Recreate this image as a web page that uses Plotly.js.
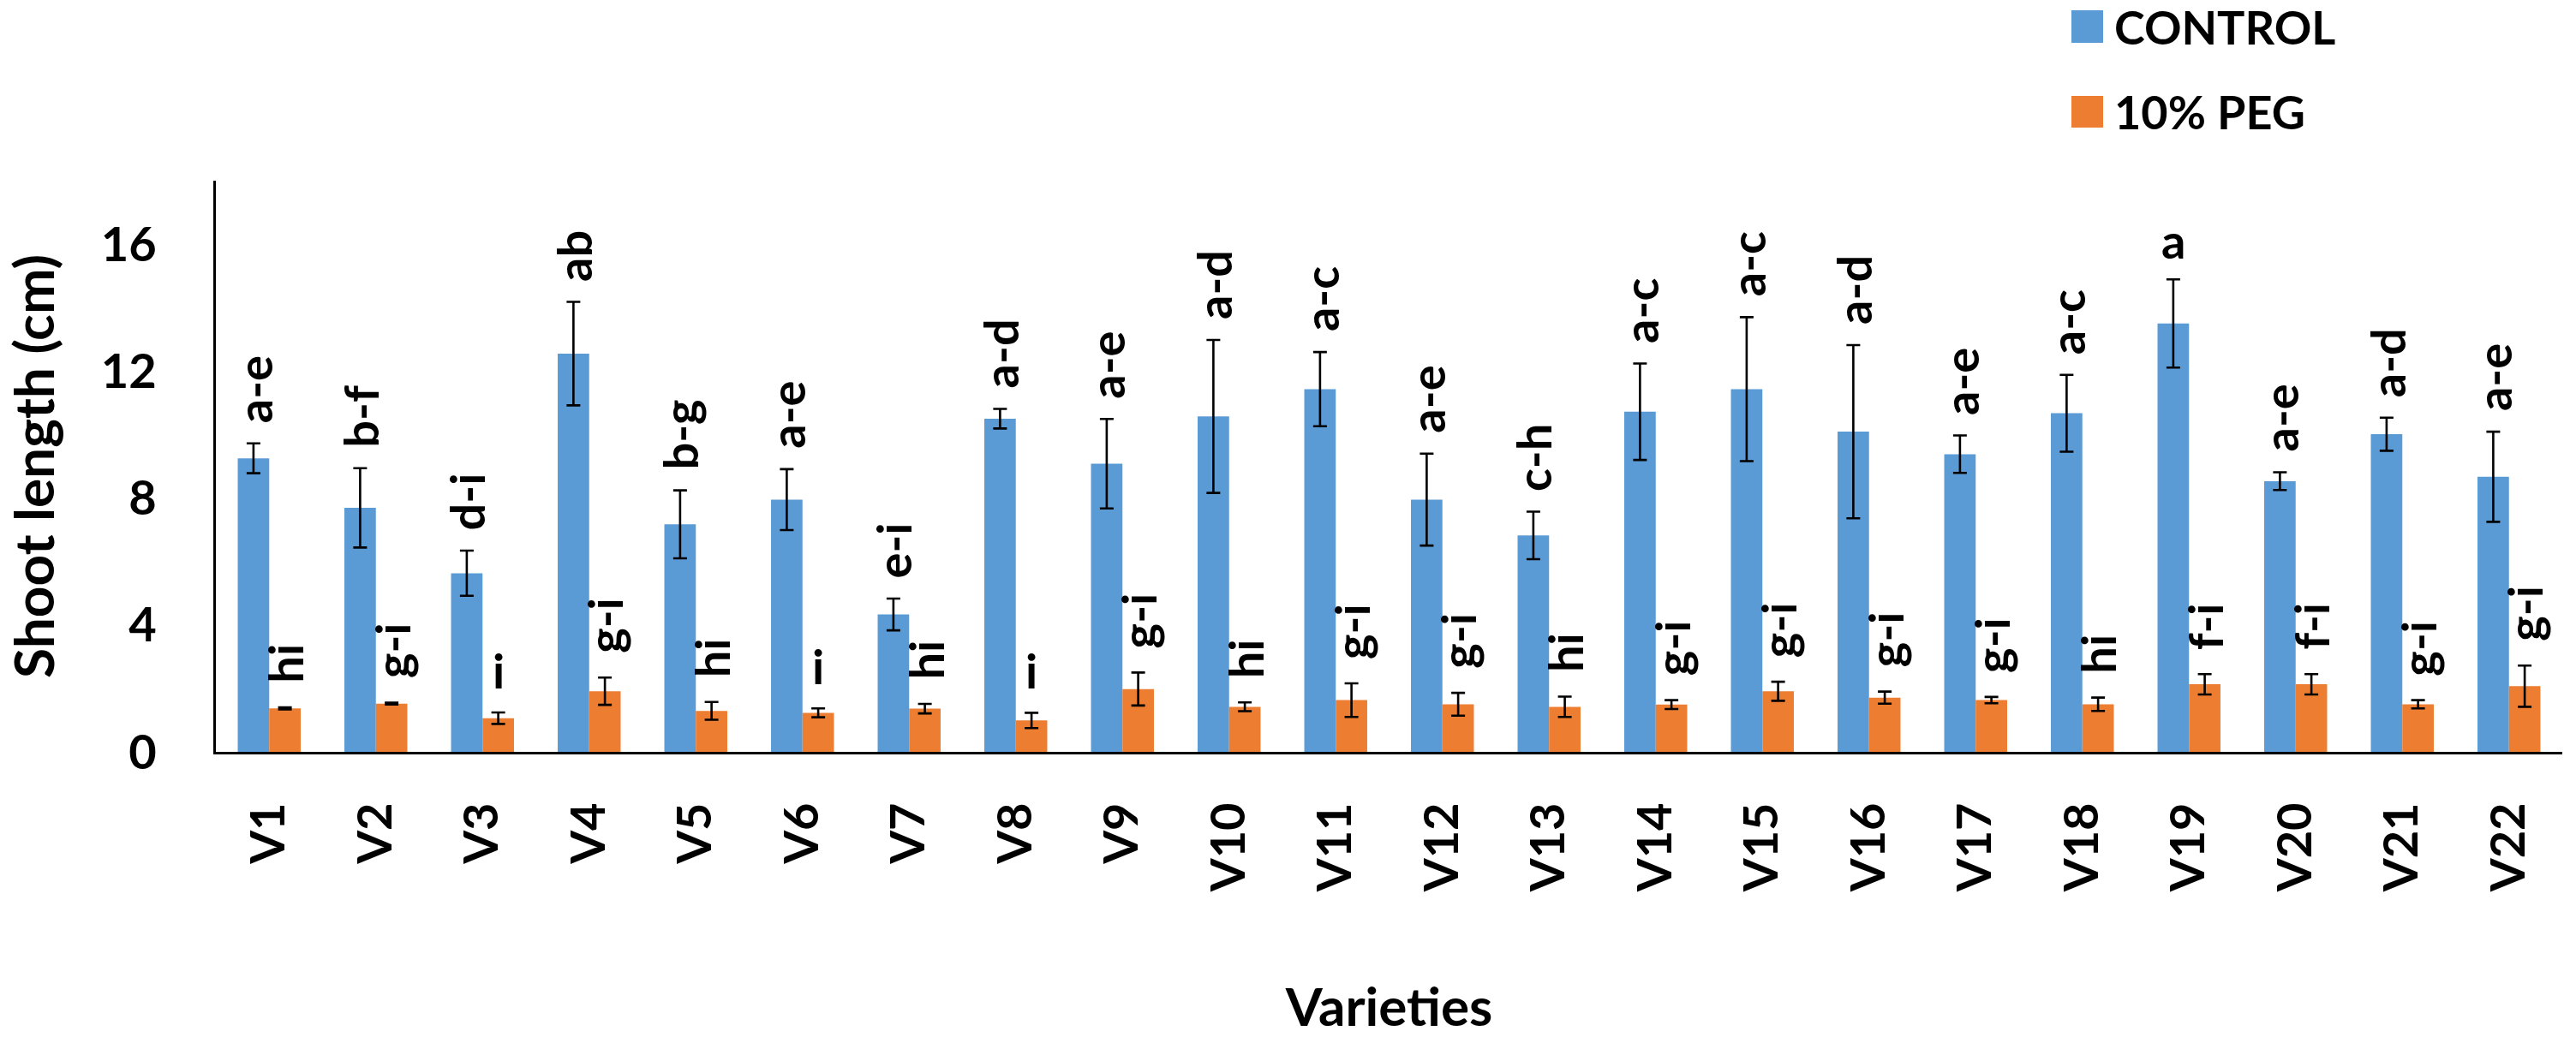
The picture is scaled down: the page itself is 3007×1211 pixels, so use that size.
<!DOCTYPE html>
<html>
<head>
<meta charset="utf-8">
<script src="https://cdn.plot.ly/plotly-3.0.1.min.js"></script>
<style>
  html, body { margin: 0; padding: 0; background: #ffffff; }
  #chart { width: 3007px; height: 1211px; }
</style>
</head>
<body>
<div id="chart"></div>
<script>
// Shoot length (cm) of 22 varieties under control and 10% PEG, mean ± error
const varieties = ['V1','V2','V3','V4','V5','V6','V7','V8','V9','V10','V11',
                   'V12','V13','V14','V15','V16','V17','V18','V19','V20','V21','V22'];

const controlMean = [9.25, 7.69, 5.63, 12.55, 7.17, 7.95, 4.33, 10.50, 9.08, 10.57, 11.43,
                     7.95, 6.82, 10.72, 11.43, 10.09, 9.38, 10.67, 13.50, 8.53, 10.01, 8.67];
const controlErr  = [0.47, 1.25, 0.71, 1.63, 1.07, 0.96, 0.50, 0.31, 1.41, 2.41, 1.17,
                     1.45, 0.75, 1.52, 2.27, 2.73, 0.59, 1.21, 1.39, 0.28, 0.52, 1.42];
const controlLetters = ['a-e','b-f','d-i','ab','b-g','a-e','e-i','a-d','a-e','a-d','a-c',
                        'a-e','c-h','a-c','a-c','a-d','a-e','a-c','a','a-e','a-d','a-e'];

const pegMean = [1.37, 1.52, 1.06, 1.91, 1.29, 1.23, 1.36, 0.99, 1.98, 1.42, 1.63,
                 1.50, 1.42, 1.49, 1.91, 1.71, 1.63, 1.50, 2.13, 2.13, 1.50, 2.07];
const pegErr  = [0.03, 0.03, 0.18, 0.43, 0.28, 0.14, 0.15, 0.24, 0.52, 0.14, 0.53,
                 0.36, 0.32, 0.14, 0.30, 0.19, 0.10, 0.21, 0.32, 0.32, 0.13, 0.65];
const pegLetters = ['hi','g-i','i','g-i','hi','i','hi','i','g-i','hi','g-i',
                    'g-i','hi','g-i','g-i','g-i','g-i','hi','f-i','f-i','g-i','g-i'];

const seriesNames = ['CONTROL', '10% PEG'];
const yTicks = [0, 4, 8, 12, 16];

const BLUE = '#5B9BD5';
const ORANGE = '#ED7D31';
const FONT = 'Lato, "Open Sans", "Noto Sans", sans-serif';

const W = 3007, H = 1211;
const M = { l: 252, r: 16, t: 211, b: 333 };
const plotW = W - M.l - M.r, plotH = H - M.t - M.b;
// page pixel -> paper coordinate helpers for the hand-drawn legend
const px = x => (x - M.l) / plotW;
const py = y => (H - M.b - y) / plotH;

const errStyle = { type: 'data', visible: true, color: '#000000', thickness: 2.6, width: 8 };

const traces = [
  {
    type: 'bar', name: seriesNames[0], x: varieties, y: controlMean,
    marker: { color: BLUE },
    error_y: Object.assign({ array: controlErr }, errStyle)
  },
  {
    type: 'bar', name: seriesNames[1], x: varieties, y: pegMean,
    marker: { color: ORANGE },
    error_y: Object.assign({ array: pegErr }, errStyle)
  }
];

// significance letters above each bar's error bar
const halfBar = 18.3;
const annotations = [];
function addLetters(letters, means, errs, dx, gap) {
  letters.forEach((txt, i) => {
    const upright = txt.length === 1;
    annotations.push({
      x: varieties[i], y: means[i] + errs[i], xref: 'x', yref: 'y',
      text: txt, showarrow: false, textangle: upright ? 0 : -90,
      xanchor: 'center', yanchor: 'bottom', xshift: dx,
      yshift: upright ? gap - 12 : gap,
      font: { family: FONT, size: 56, color: '#000000', weight: 'bold' }
    });
  });
}
addLetters(controlLetters, controlMean, controlErr, -halfBar, 22);
addLetters(pegLetters, pegMean, pegErr, halfBar, 26);

// legend entries: colour square + label
const legendRows = [
  { name: seriesNames[0], color: BLUE, top: 12, bottom: 50 },
  { name: seriesNames[1], color: ORANGE, top: 112, bottom: 149 }
];
const shapes = [];
legendRows.forEach(r => {
  shapes.push({
    type: 'rect', xref: 'paper', yref: 'paper',
    x0: px(2418), x1: px(2455), y0: py(r.bottom), y1: py(r.top),
    fillcolor: r.color, line: { width: 0 }
  });
  annotations.push({
    xref: 'paper', yref: 'paper', x: px(2466), y: py((r.top + r.bottom) / 2),
    xanchor: 'left', yanchor: 'middle', showarrow: false, text: r.name,
    font: { family: FONT, size: 54, color: '#000000', weight: 'bold' }
  });
});

const layout = {
  width: W, height: H, autosize: false,
  margin: M,
  paper_bgcolor: '#ffffff', plot_bgcolor: '#ffffff',
  showlegend: false,
  barmode: 'group', bargap: 0.41, bargroupgap: 0,
  font: { family: FONT, color: '#000000', weight: 'bold' },
  xaxis: {
    type: 'category', showline: true, linecolor: '#000000', linewidth: 3,
    ticks: '', showgrid: false, zeroline: false, tickangle: -90,
    ticklabelstandoff: 34,
    tickfont: { family: FONT, size: 56, color: '#000000', weight: 'bold' },
    title: { text: 'Varieties', standoff: 120,
             font: { family: FONT, size: 62, color: '#000000', weight: 'bold' } },
    automargin: false
  },
  yaxis: {
    range: [0, 18], tickvals: yTicks, showline: true, linecolor: '#000000', linewidth: 3,
    ticks: '', showgrid: false, zeroline: false,
    ticklabelstandoff: 55,
    tickfont: { family: FONT, size: 56, color: '#000000', weight: 'bold' },
    title: { text: 'Shoot length (cm)', standoff: 50,
             font: { family: FONT, size: 64, color: '#000000', weight: 'bold' } },
    automargin: false
  },
  shapes: shapes,
  annotations: annotations
};

Plotly.newPlot('chart', traces, layout, { displayModeBar: false, staticPlot: true });
</script>
</body>
</html>
